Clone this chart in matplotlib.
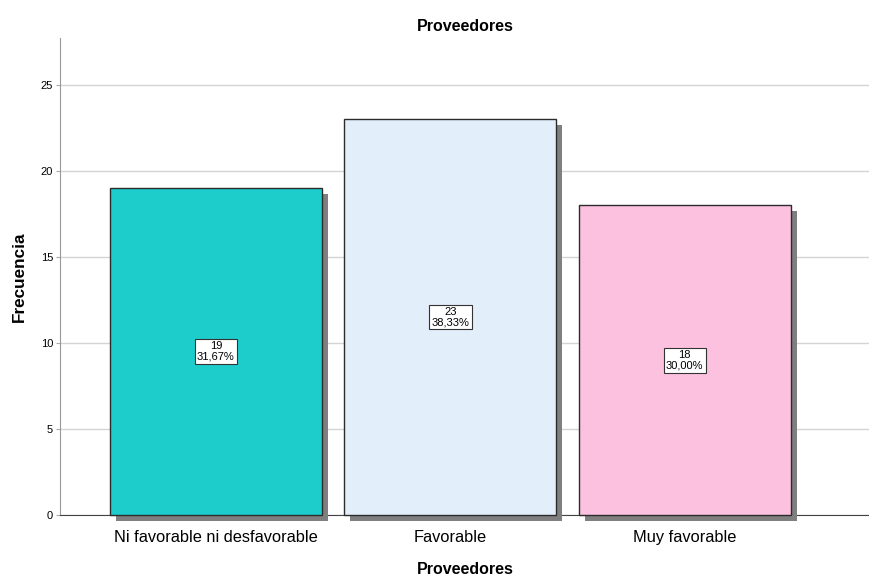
import matplotlib
matplotlib.use("Agg")
import matplotlib.pyplot as plt
import matplotlib.patheffects as pe

plt.rcParams['font.family'] = ['Liberation Sans', 'DejaVu Sans']

categories = ["Ni favorable ni desfavorable", "Favorable", "Muy favorable"]
counts = [19, 23, 18]
percents = ["31,67%", "38,33%", "30,00%"]
colors = ["#1ccdcc", "#e3eefb", "#fdc1e0"]

fig = plt.figure(figsize=(8.7, 5.78), dpi=100)
ax = fig.add_axes([0.069, 0.109, 0.931, 0.825])

x = list(range(len(categories)))
bars = ax.bar(x, counts, width=0.904, color=colors, edgecolor="#2b2b2b",
              linewidth=1.0, zorder=3)
for b in bars:
    b.set_clip_on(False)
    b.set_path_effects([pe.SimplePatchShadow(offset=(4.3, -4.3), shadow_rgbFace="#7f7f7f", alpha=1.0),
                        pe.Normal()])

for xi, c, p in zip(x, counts, percents):
    ax.text(xi, c / 2, f"{c}\n{p}", ha="center", va="center", fontsize=8,
            linespacing=1.0, zorder=5,
            bbox=dict(boxstyle="square,pad=0.22", facecolor="white", edgecolor="#333333", linewidth=0.8))

ax.set_xlim(-0.665, 2.79)
ax.set_ylim(0, 27.7)
ax.set_yticks([0, 5, 10, 15, 20, 25])
ax.set_xticks(x)
ax.set_xticklabels(categories, fontsize=11.8)
ax.tick_params(axis="y", labelsize=8, length=3, color="#aaaaaa", pad=2)
ax.tick_params(axis="x", length=0, pad=11)
ax.yaxis.grid(True, color="#d4d4d4", linewidth=1.0, zorder=0)
ax.set_axisbelow(True)

for s in ["top", "right"]:
    ax.spines[s].set_visible(False)
ax.spines["left"].set_color("#999999")
ax.spines["bottom"].set_color("#444444")

ax.set_title("Proveedores", fontsize=11.5, fontweight="bold", pad=5)
ax.set_xlabel("Proveedores", fontsize=11.5, fontweight="bold", labelpad=12)
ax.set_ylabel("Frecuencia", fontsize=12.3, fontweight="bold", labelpad=10)

fig.savefig("out.png", dpi=100)
